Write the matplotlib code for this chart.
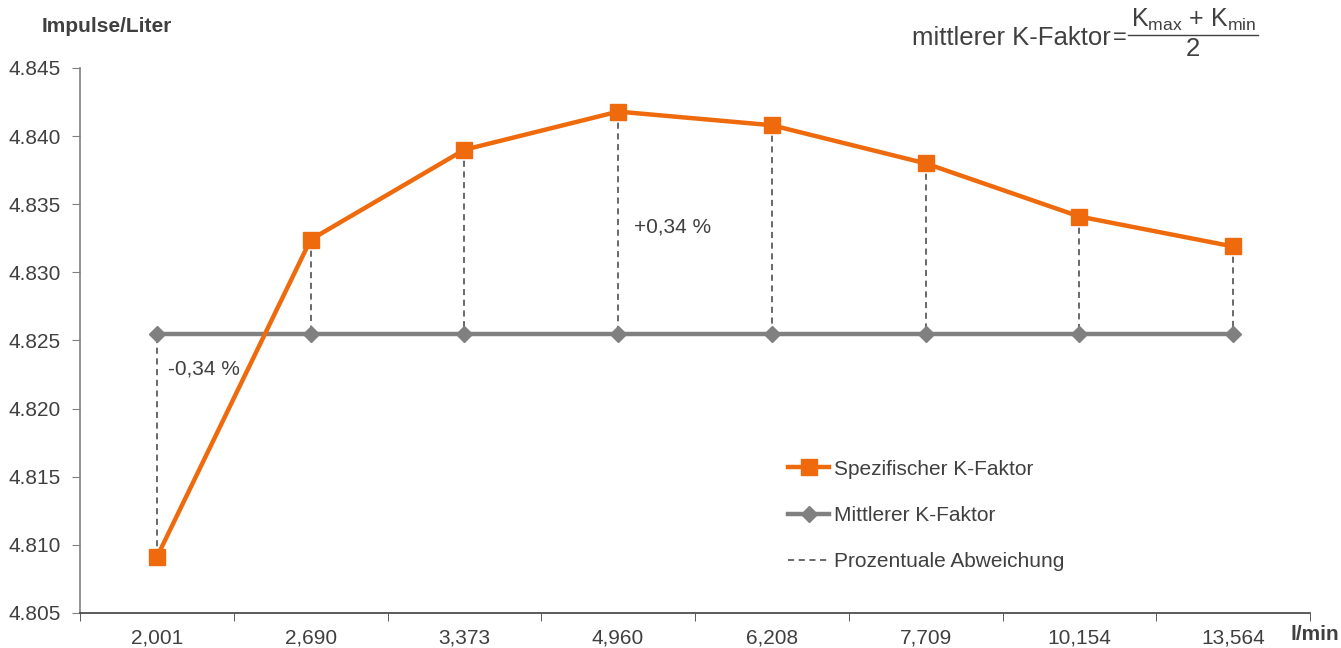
import matplotlib.pyplot as plt
import numpy as np

plt.rcParams['font.family'] = ['Liberation Sans', 'DejaVu Sans']

flow = ['2,001', '2,690', '3,373', '4,960', '6,208', '7,709', '10,154', '13,564']
k_spec = [4.8091, 4.8324, 4.8390, 4.8418, 4.8408, 4.8380, 4.8341, 4.8319]
k_mean = (max(k_spec) + min(k_spec)) / 2
y_ticks = [4.805, 4.810, 4.815, 4.820, 4.825, 4.830, 4.835, 4.840, 4.845]

orange = '#EE6A0C'
grey = '#808080'
txt = '#404040'

fig = plt.figure(figsize=(13.41, 6.48), dpi=100)
ax = fig.add_axes([80/1341, 35/648, 1230/1341, 545/648])

x = np.arange(len(flow))
mean_line = [k_mean] * len(flow)

# dashed deviation lines
for xi, k in zip(x, k_spec):
    ax.plot([xi, xi], [k, k_mean], color=txt, lw=1.1, ls=(0, (4, 3)), zorder=1)

ax.plot(x, mean_line, color=grey, lw=3.2, marker='D', ms=8, zorder=2,
        label='Mittlerer K-Faktor')
ax.plot(x, k_spec, color=orange, lw=3.2, marker='s', ms=11, zorder=3,
        label='Spezifischer K-Faktor')
ax.plot([], [], color=txt, lw=1.1, ls=(0, (4, 3)), label='Prozentuale Abweichung')

ax.set_xlim(-0.5, len(flow) - 0.5)
ax.set_ylim(4.805, 4.845)
ax.set_yticks(y_ticks)
ax.set_yticklabels([f'{v:.3f}' for v in y_ticks])
ax.set_xticks(x)
ax.set_xticklabels(flow)
ax.set_xticks(np.arange(len(flow) + 1) - 0.5, minor=True)
ax.tick_params(axis='x', which='major', length=0, pad=11, labelsize=15, labelcolor=txt)
ax.tick_params(axis='x', which='minor', length=6, color=txt, direction='out')
ax.tick_params(axis='y', length=6, color=grey, labelsize=15, labelcolor=txt, pad=8)

for s in ['top', 'right']:
    ax.spines[s].set_visible(False)
ax.spines['left'].set_color(grey)
ax.spines['bottom'].set_color(txt)
ax.spines['left'].set_linewidth(1.2)
ax.spines['bottom'].set_linewidth(1.2)

ax.text(3.1, 4.8333, '+0,34 %', fontsize=15, color=txt, va='center')
ax.text(0.07, 4.8229, '-0,34 %', fontsize=15, color=txt, va='center')

h, l = ax.get_legend_handles_labels()
order = [1, 0, 2]
leg = ax.legend([h[i] for i in order], [l[i] for i in order], loc='upper left',
                bbox_to_anchor=(689/1230, 1 - (441 - 68)/545), frameon=False,
                fontsize=15, labelspacing=1.3, handlelength=2.0, handletextpad=0.2,
                labelcolor=txt)

fig.text(42/1341, 1 - 27/648, 'Impulse/Liter', fontsize=15, fontweight='bold',
         color=txt, va='center')
fig.text(1290/1341, 1 - 634/648, 'l/min', fontsize=15, fontweight='bold',
         color=txt, va='center')

# formula
fig.text(1111/1341, 1 - 38/648, 'mittlerer K-Faktor', fontsize=18.5, color=txt,
         ha='right', va='center')
fig.text(1120/1341, 1 - 38/648, '=', fontsize=17, color=txt, ha='center', va='center')
fig.add_artist(plt.Line2D([1128/1341, 1258/1341], [1 - 35/648, 1 - 35/648],
                          color=txt, lw=1))
fig.text(1193/1341, 1 - 49/648, '2', fontsize=18.5, color=txt, ha='center', va='center')
fig.text(1194/1341, 1 - 20/648, r'K$_{\mathregular{max}}$ + K$_{\mathregular{min}}$',
         fontsize=18, color=txt, ha='center', va='center')

fig.savefig('out.png', dpi=100)
